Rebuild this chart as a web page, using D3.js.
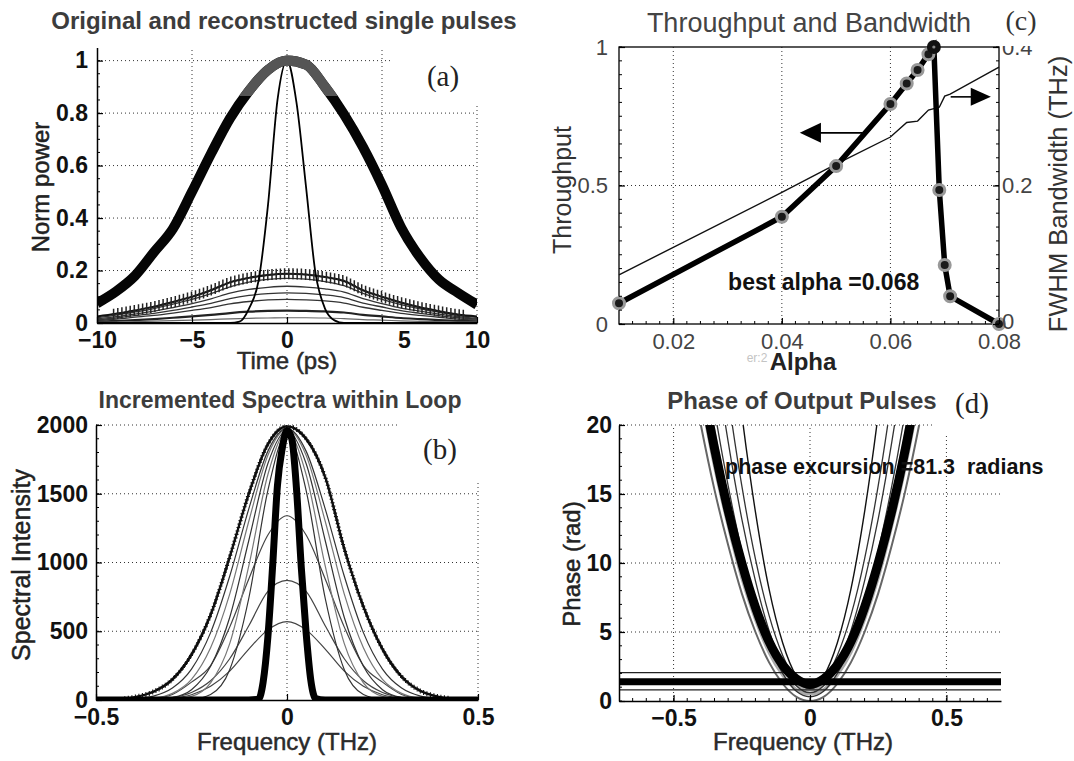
<!DOCTYPE html>
<html><head><meta charset="utf-8">
<script src="https://cdn.jsdelivr.net/npm/d3@7"></script>
<style>
body{margin:0;background:#fff}
svg{display:block}
</style>
</head><body>
<script>
// ================= DATA =================
// Panel (a) – Original and reconstructed single pulses
const timeGrid = [-10,-9,-8,-7,-6,-5,-4,-3,-2,-1,0,1,2,3,4,5,6,7,8,9,10];
const pulseOriginal = [0.075,0.12,0.18,0.27,0.36,0.5,0.645,0.78,0.885,0.965,1.0,0.985,0.9,0.795,0.67,0.525,0.365,0.25,0.165,0.115,0.07];
const pulseMarked   = [0.025,0.035,0.048,0.062,0.08,0.1,0.125,0.155,0.172,0.183,0.188,0.185,0.175,0.16,0.125,0.1,0.078,0.06,0.045,0.032,0.025];
const pulseRecon1 = [0.02,0.03,0.042,0.055,0.072,0.09,0.112,0.138,0.156,0.166,0.17,0.167,0.158,0.142,0.113,0.09,0.07,0.054,0.041,0.029,0.022];
const pulseRecon2 = [0.016,0.024,0.034,0.045,0.059,0.074,0.092,0.114,0.128,0.136,0.14,0.137,0.13,0.118,0.093,0.074,0.057,0.045,0.034,0.024,0.018];
const pulseRecon3 = [0.013,0.019,0.028,0.037,0.048,0.061,0.075,0.093,0.105,0.112,0.115,0.113,0.107,0.097,0.076,0.061,0.047,0.037,0.028,0.02,0.015];
const pulseRecon4 = [0.01,0.015,0.022,0.029,0.038,0.048,0.059,0.073,0.082,0.088,0.09,0.088,0.084,0.076,0.06,0.048,0.037,0.029,0.022,0.015,0.012];
const pulseRecon5 = [0.005,0.008,0.011,0.015,0.02,0.025,0.031,0.038,0.043,0.046,0.047,0.046,0.044,0.04,0.031,0.025,0.019,0.015,0.011,0.008,0.006];
const pulseRecon6 = [0.002,0.003,0.005,0.007,0.009,0.011,0.013,0.016,0.018,0.019,0.02,0.02,0.019,0.017,0.013,0.011,0.008,0.006,0.005,0.003,0.003];
const narrowTime  = [-10,-3,-2.5,-2,-1.5,-1,-0.5,0,0.5,1,1.5,2,2.5,3,10];
const pulseNarrow = [0,0,0.005,0.055,0.16,0.45,0.85,1.0,0.84,0.52,0.19,0.055,0.01,0,0];
const xTicksA = [-10,-5,0,5,10];
const xTickLabelsA = ["\u221210","\u22125","0","5","10"];
const yTicksA = [0,0.2,0.4,0.6,0.8,1];
const yTickLabelsA = ["0","0.2","0.4","0.6","0.8","1"];

// Panel (b) – Incremented spectra within loop
const freqGrid = [-0.5,-0.45,-0.4,-0.35,-0.3,-0.25,-0.2,-0.15,-0.1,-0.05,0,0.05,0.1,0.15,0.2,0.25,0.3,0.35,0.4,0.45,0.5];
const specEnvelope = [0,3,20,60,150,330,620,1040,1500,1860,1990,1900,1620,1100,680,370,170,65,22,5,0];
const specA = [0,0,0,0,0,5,40,220,740,1525,1940,1525,740,220,40,5,0,0,0,0,0];
const specB = [0,0,0,0,4,26,125,410,975,1640,1950,1640,975,410,125,26,4,0,0,0,0];
const specC = [0,0,0,3,18,75,245,600,1160,1720,1960,1720,1160,600,245,75,18,3,0,0,0];
const specD = [0,0,3,12,48,150,380,770,1300,1780,1970,1780,1300,770,380,150,48,12,3,0,0];
const specE = [0,2,8,28,87,225,490,900,1390,1810,1975,1810,1390,900,490,225,87,28,8,2,0];
const spec1340 = [0,0,2,10,40,130,250,530,880,1200,1340,1200,880,530,250,130,40,10,2,0,0];
const spec870  = [0,0,1,5,18,55,140,300,540,790,870,790,540,300,140,55,18,5,1,0,0];
const spec570  = [0,0,0,3,12,38,100,210,370,510,570,510,370,210,100,38,12,3,0,0,0];
const narrowFreq = [-0.5,-0.1,-0.075,-0.0625,-0.05,-0.0375,-0.025,-0.0125,0,0.0125,0.025,0.0375,0.05,0.0625,0.075,0.1,0.5];
const specNarrow = [0,0,5,130,460,980,1560,1830,1960,1900,1530,960,490,140,10,0,0];
const xTicksB = [-0.5,0,0.5];
const xTickLabelsB = ["\u22120.5","0","0.5"];
const yTicksB = [0,500,1000,1500,2000];
const yTickLabelsB = ["0","500","1000","1500","2000"];

// Panel (c) – Throughput and bandwidth
const alphaValues = [0.01,0.04,0.05,0.06,0.063,0.065,0.067,0.068,0.069,0.070,0.071,0.08];
const throughput  = [0.075,0.387,0.57,0.794,0.868,0.917,0.974,1.0,0.484,0.213,0.1,0.0];
const bandwidth   = [0.071,0.19,0.231,0.27,0.291,0.293,0.309,0.311,0.313,0.329,0.332,0.371];
const bestAlpha = 0.068;
const xTicksC = [0.02,0.04,0.06,0.08];
const xTickLabelsC = ["0.02","0.04","0.06","0.08"];
const yTicksC = [0,0.5,1];
const yTickLabelsC = ["0","0.5","1"];
const yTicksC2 = [0,0.2,0.4];
const yTickLabelsC2 = ["0","0.2","0.4"];

// Panel (d) – Phase of output pulses
const phaseFreq  = [-0.45,-0.4,-0.35,-0.3,-0.25,-0.2,-0.15,-0.1,-0.05,0,0.05,0.1,0.15,0.2,0.25,0.3,0.35,0.4,0.45];
const phaseThick = [29.6,23.6,18.3,13.8,10,6.8,4.3,2.6,1.6,1.2,1.6,2.6,4.3,6.8,10,13.8,18.3,23.6,29.6];
const phaseThin1 = [25.3,20,15.3,11.3,7.8,5,2.8,1.25,0.3,0,0.3,1.25,2.8,5,7.8,11.3,15.3,20,25.3];
const phaseThin2 = [34.7,27.5,21.1,15.6,10.9,7.1,4.1,2.0,0.7,0.3,0.7,2.0,4.1,7.1,10.9,15.6,21.1,27.5,34.7];
const phaseThin3 = [41.5,32.9,25.3,18.8,13.2,8.7,5.1,2.6,1.1,0.6,1.1,2.6,5.1,8.7,13.2,18.8,25.3,32.9,41.5];
const phaseThin4 = [48.5,38.5,29.7,22.1,15.6,10.3,6.2,3.3,1.5,0.9,1.5,3.3,6.2,10.3,15.6,22.1,29.7,38.5,48.5];
const phaseThin5 = [65,51.7,39.8,29.5,20.8,13.7,8.1,4.2,1.8,1.0,1.8,4.2,8.1,13.7,20.8,29.5,39.8,51.7,65];
const phaseHaze1 = [27.8,22.1,17.0,12.7,8.9,5.9,3.5,1.85,0.84,0.5,0.84,1.85,3.5,5.9,8.9,12.7,17.0,22.1,27.8];
const phaseHaze2 = [31.6,25.1,19.4,14.5,10.3,6.9,4.2,2.3,1.2,0.8,1.2,2.3,4.2,6.9,10.3,14.5,19.4,25.1,31.6];
const phaseFlatThick = 1.4;
const phaseFlatThin = [2.05, 0.8];
const xTicksD = [-0.5,0,0.5];
const xTickLabelsD = ["\u22120.5","0","0.5"];
const yTicksD = [0,5,10,15,20];
const yTickLabelsD = ["0","5","10","15","20"];

// ================= DRAWING =================
const FONT = '"Liberation Sans", Arial, Helvetica, sans-serif';
const SERIF = '"Liberation Serif", "Times New Roman", serif';
const TICK = 23;
const svg = d3.select("body").append("svg").attr("width",1074).attr("height",761)
  .style("font-family",FONT);
svg.append("rect").attr("width",1074).attr("height",761).attr("fill","#fff");

function lineD(xs, ys, sx, sy){
  return d3.line().x((d,i)=>sx(xs[i])).y(d=>sy(d)).curve(d3.curveMonotoneX)(ys);
}
function clip(id, sx, sy){
  const [x0,x1]=sx.range(), [y0,y1]=sy.range();
  svg.append("clipPath").attr("id",id).append("rect")
    .attr("x",Math.min(x0,x1)).attr("y",Math.min(y0,y1))
    .attr("width",Math.abs(x1-x0)).attr("height",Math.abs(y1-y0));
}
function grid(g, sx, sy, xv, yv){
  const [x0,x1]=sx.range(), [y0,y1]=sy.range();
  xv.forEach(v=>g.append("line").attr("x1",sx(v)).attr("x2",sx(v)).attr("y1",y0).attr("y2",y1)
    .attr("stroke","#333").attr("stroke-width",1).attr("stroke-dasharray","1,3"));
  yv.forEach(v=>g.append("line").attr("x1",x0).attr("x2",x1).attr("y1",sy(v)).attr("y2",sy(v))
    .attr("stroke","#333").attr("stroke-width",1).attr("stroke-dasharray","1,3"));
}
function styleAxis(a, size, weight, fill){
  a.select(".domain").attr("stroke","#000").attr("stroke-width",1.5);
  a.selectAll(".tick line").attr("stroke","#000").attr("stroke-width",1.2);
  a.selectAll("text").style("font-family",FONT).style("font-size",size+"px")
    .style("font-weight",weight).attr("fill",fill);
}
function minor(g, sx, sy, vals, orient, len){
  vals.forEach(v=>{
    if(orient==="left") g.append("line").attr("x1",sx.range()[0]).attr("x2",sx.range()[0]+len).attr("y1",sy(v)).attr("y2",sy(v));
    else if(orient==="right") g.append("line").attr("x1",sx.range()[1]).attr("x2",sx.range()[1]-len).attr("y1",sy(v)).attr("y2",sy(v));
    else g.append("line").attr("y1",sy.range()[0]).attr("y2",sy.range()[0]-len).attr("x1",sx(v)).attr("x2",sx(v));
  });
  g.attr("stroke","#000").attr("stroke-width",1);
}
function plusMarkers(g, pathSel, xMin, xMax, step, h, w, sw, col){
  const node = pathSel.node(), L = node.getTotalLength();
  let d = "";
  for(let s=0; s<=L; s+=step){
    const p = node.getPointAtLength(s);
    if(p.x<xMin || p.x>xMax) continue;
    d += `M${(p.x-w/2).toFixed(1)},${p.y.toFixed(1)}h${w}M${p.x.toFixed(1)},${(p.y-h/2).toFixed(1)}v${h}`;
  }
  g.append("path").attr("d",d).attr("stroke",col).attr("stroke-width",sw).attr("fill","none");
}
function text(x,y,str,opt){
  const t = svg.append("text").attr("x",x).attr("y",y).text(str)
    .attr("text-anchor",opt.anchor||"middle").attr("fill",opt.fill||"#111")
    .style("font-family",opt.family||FONT).style("font-size",(opt.size||20)+"px")
    .style("font-weight",opt.weight||"normal").style("white-space","pre");
  if(opt.stroke) t.attr("stroke",opt.fill||"#111").attr("stroke-width",opt.stroke);
  if(opt.rotate) t.attr("transform",`rotate(${opt.rotate},${x},${y})`);
  return t;
}

// ---------- Panel (a) ----------
{
  const sx = d3.scaleLinear().domain([-10,10]).range([97,477]);
  const sy = d3.scaleLinear().domain([0,1.05]).range([323,47.5]);
  clip("clipA", sx, sy);
  const g = svg.append("g");
  grid(g, sx, sy, [-5,0,5,10], [0.2,0.4,0.6,0.8,1]);
  g.append("rect").attr("x",393).attr("y",40).attr("width",95).attr("height",63).attr("fill","#fff");
  const c = g.append("g").attr("clip-path","url(#clipA)");
  [pulseRecon1,pulseRecon2,pulseRecon3,pulseRecon4].forEach(a=>
    c.append("path").attr("d",lineD(timeGrid,a,sx,sy)).attr("fill","none").attr("stroke","#333").attr("stroke-width",1.3));
  c.append("path").attr("d",lineD(timeGrid,pulseRecon5,sx,sy)).attr("fill","none").attr("stroke","#222").attr("stroke-width",2.2);
  c.append("path").attr("d",lineD(timeGrid,pulseRecon6,sx,sy)).attr("fill","none").attr("stroke","#666").attr("stroke-width",1.2);
  const pm = c.append("path").attr("d",lineD(timeGrid,pulseMarked,sx,sy)).attr("fill","none").attr("stroke","#111").attr("stroke-width",2);
  plusMarkers(c, pm, sx(-9.2), sx(9.4), 4.2, 11, 3, 1.5, "#222");
  c.append("path").attr("d",lineD(narrowTime,pulseNarrow,sx,sy)).attr("fill","none").attr("stroke","#000").attr("stroke-width",1.8);
  const dThick = lineD(timeGrid,pulseOriginal,sx,sy);
  c.append("path").attr("d",dThick).attr("fill","none").attr("stroke","#050505").attr("stroke-width",10);
  svg.append("clipPath").attr("id","clipATop").append("rect").attr("x",97).attr("y",40).attr("width",380).attr("height",sy(0.865)-40);
  g.append("path").attr("d",dThick).attr("fill","none").attr("stroke","#555").attr("stroke-width",10).attr("clip-path","url(#clipATop)");

  const ax = g.append("g").attr("transform",`translate(0,${sy(0)})`)
    .call(d3.axisBottom(sx).tickValues(xTicksA).tickFormat((d,i)=>xTickLabelsA[i]).tickSizeInner(-6).tickSizeOuter(0).tickPadding(9));
  styleAxis(ax,TICK,"bold","#111");
  ax.selectAll(".tick text").filter(d=>d===5).attr("dx",22);
  const ay = g.append("g").attr("transform",`translate(${sx(-10)},0)`)
    .call(d3.axisLeft(sy).tickValues(yTicksA).tickFormat((d,i)=>yTickLabelsA[i]).tickSizeInner(-6).tickSizeOuter(0).tickPadding(9));
  styleAxis(ay,TICK,"bold","#111");
  minor(g.append("g"), sx, sy, d3.range(0,1.05,0.05), "left", 3);

  text(284,29,"Original and reconstructed single pulses",{size:24,weight:"bold",fill:"#3c3c3c"});
  text(287,369,"Time (ps)",{size:24,fill:"#2a2a2a",stroke:0.5});
  text(49,187,"Norm power",{size:24,fill:"#222",stroke:0.5,rotate:-90});
  text(443,86,"(a)",{size:29,family:SERIF,fill:"#222"});
}

// ---------- Panel (b) ----------
{
  const sx = d3.scaleLinear().domain([-0.5,0.5]).range([96,478]);
  const sy = d3.scaleLinear().domain([0,2000]).range([700,425]);
  clip("clipB", sx, sy);
  const g = svg.append("g");
  grid(g, sx, sy, [0,0.5], [500,1000,1500,2000]);
  g.append("rect").attr("x",400).attr("y",414).attr("width",90).attr("height",68).attr("fill","#fff");
  const c = g.append("g").attr("clip-path","url(#clipB)");
  [spec570,spec870,spec1340].forEach(a=>
    c.append("path").attr("d",lineD(freqGrid,a,sx,sy)).attr("fill","none").attr("stroke","#444").attr("stroke-width",1.2));
  [specA,specB,specC,specD,specE].forEach((a,i)=>
    c.append("path").attr("d",lineD(freqGrid,a,sx,sy)).attr("fill","none").attr("stroke",i%2?"#777":"#333").attr("stroke-width",1.2));
  const env = c.append("path").attr("d",lineD(freqGrid,specEnvelope,sx,sy)).attr("fill","none").attr("stroke","#000").attr("stroke-width",2.2);
  plusMarkers(c, env, sx(-0.43), sx(0.43), 3.6, 5, 4, 1.1, "#111");
  c.append("path").attr("d",lineD(narrowFreq,specNarrow,sx,sy)).attr("fill","none").attr("stroke","#000").attr("stroke-width",7);

  const ax = g.append("g").attr("transform",`translate(0,${sy(0)})`)
    .call(d3.axisBottom(sx).tickValues(xTicksB).tickFormat((d,i)=>xTickLabelsB[i]).tickSizeInner(-6).tickSizeOuter(0).tickPadding(9));
  styleAxis(ax,TICK,"bold","#111");
  const ay = g.append("g").attr("transform",`translate(${sx(-0.5)},0)`)
    .call(d3.axisLeft(sy).tickValues(yTicksB).tickFormat((d,i)=>yTickLabelsB[i]).tickSizeInner(-6).tickSizeOuter(0).tickPadding(8));
  styleAxis(ay,TICK,"bold","#111");
  minor(g.append("g"), sx, sy, d3.range(0,2001,100), "left", 3);

  text(280,408,"Incremented Spectra within Loop",{size:23,weight:"bold",fill:"#3c3c3c"});
  text(287,750,"Frequency (THz)",{size:24,fill:"#2a2a2a",stroke:0.5});
  text(30,565,"Spectral Intensity",{size:25,fill:"#222",stroke:0.5,rotate:-90});
  text(440,459,"(b)",{size:29,family:SERIF,fill:"#222"});
}

// ---------- Panel (c) ----------
{
  const sx = d3.scaleLinear().domain([0.01,0.08]).range([619,999]);
  const sy = d3.scaleLinear().domain([0,1]).range([324,47]);
  const sy2 = d3.scaleLinear().domain([0,0.4]).range([324,47]);
  const g = svg.append("g");
  grid(g, sx, sy, [0.02,0.04,0.06], [0.5]);
  g.append("rect").attr("x",619).attr("y",47).attr("width",380).attr("height",277).attr("fill","none").attr("stroke","#000").attr("stroke-width",1.3);

  g.append("path").attr("d",d3.line().x((d,i)=>sx(alphaValues[i])).y(d=>sy2(d))(bandwidth))
    .attr("fill","none").attr("stroke","#111").attr("stroke-width",1.4);
  g.append("path").attr("d",d3.line().x((d,i)=>sx(alphaValues[i])).y(d=>sy(d))(throughput))
    .attr("fill","none").attr("stroke","#000").attr("stroke-width",5.5);
  alphaValues.forEach((a,i)=>{
    if(a===bestAlpha) return;
    g.append("circle").attr("cx",sx(a)).attr("cy",sy(throughput[i])).attr("r",5.5)
      .attr("fill","#1a1a1a").attr("stroke","#999").attr("stroke-width",3);
  });
  const bi = alphaValues.indexOf(bestAlpha);
  g.append("circle").attr("cx",sx(bestAlpha)).attr("cy",sy(throughput[bi])).attr("r",7).attr("fill","#111");
  g.append("circle").attr("cx",sx(bestAlpha)).attr("cy",sy(throughput[bi])).attr("r",1.6).attr("fill","#888");

  // arrows (annotation positions in data units)
  const ly = sy(0.69);
  g.append("line").attr("x1",sx(0.0549)).attr("x2",sx(0.0465)).attr("y1",ly).attr("y2",ly).attr("stroke","#000").attr("stroke-width",1.6);
  g.append("path").attr("d",`M${sx(0.0433)},${ly}L${sx(0.0472)},${ly-10}L${sx(0.0472)},${ly+10}Z`).attr("fill","#000");
  const ry = sy(0.82);
  g.append("line").attr("x1",sx(0.0711)).attr("x2",sx(0.0755)).attr("y1",ry).attr("y2",ry).attr("stroke","#000").attr("stroke-width",1.6);
  g.append("path").attr("d",`M${sx(0.0785)},${ry}L${sx(0.0748)},${ry-9}L${sx(0.0748)},${ry+9}Z`).attr("fill","#000");

  const ax = g.append("g").attr("transform",`translate(0,${sy(0)})`)
    .call(d3.axisBottom(sx).tickValues(xTicksC).tickFormat((d,i)=>xTickLabelsC[i]).tickSizeInner(-6).tickSizeOuter(0).tickPadding(9));
  styleAxis(ax,22,"normal","#444");
  ax.select(".domain").remove();
  const ay = g.append("g").attr("transform",`translate(${sx(0.01)},0)`)
    .call(d3.axisLeft(sy).tickValues(yTicksC).tickFormat((d,i)=>yTickLabelsC[i]).tickSizeInner(-6).tickSizeOuter(0).tickPadding(11));
  styleAxis(ay,22,"normal","#444");
  ay.select(".domain").remove();
  const ay2 = g.append("g").attr("transform",`translate(${sx(0.08)},0)`)
    .call(d3.axisRight(sy2).tickValues(yTicksC2).tickFormat((d,i)=>yTickLabelsC2[i]).tickSizeInner(-6).tickSizeOuter(0).tickPadding(3));
  styleAxis(ay2,22,"normal","#444");
  ay2.select(".domain").remove();
  ay2.selectAll(".tick text").filter(d=>d===0).attr("dy","0.2em");
  minor(g.append("g"), sx, sy2, d3.range(0,0.401,0.02), "right", 3);
  minor(g.append("g"), sx, sy, d3.range(0,1.001,0.05), "left", 3);
  minor(g.append("g"), sx, sy, d3.range(0.0125,0.08,0.0025), "bottom", 3);
  // top of the "0.4" label is cut off in the source
  svg.append("rect").attr("x",1001).attr("y",0).attr("width",40).attr("height",46).attr("fill","#fff");

  text(809,32,"Throughput and Bandwidth",{size:27,fill:"#444"});
  text(1021,30,"(c)",{size:28,family:SERIF,fill:"#333"});
  text(803,370,"Alpha",{size:24,weight:"bold",fill:"#222"});
  text(757,362,"er:2",{size:12,fill:"#c4c4c4"});
  text(571,190,"Throughput",{size:25,fill:"#333",rotate:-90});
  text(1067,194,"FWHM Bandwidth (THz)",{size:25.5,fill:"#333",rotate:-90});
  text(sx(0.0301),sy(0.123),"best alpha =0.068",{size:23,weight:"bold",anchor:"start",fill:"#111"});
}

// ---------- Panel (d) ----------
{
  const sx = d3.scaleLinear().domain([-0.7,0.7]).range([619,1001]);
  const sy = d3.scaleLinear().domain([0,20]).range([701,425]);
  clip("clipD", sx, sy);
  const g = svg.append("g");
  grid(g, sx, sy, [-0.5,0,0.5], [5,10,15,20]);
  g.append("rect").attr("x",935).attr("y",416).attr("width",75).attr("height",18).attr("fill","#fff");
  const c = g.append("g").attr("clip-path","url(#clipD)");
  [phaseHaze1,phaseHaze2].forEach(a=>
    c.append("path").attr("d",lineD(phaseFreq,a,sx,sy)).attr("fill","none").attr("stroke","#aaa").attr("stroke-width",3));
  c.append("path").attr("d",lineD(phaseFreq,phaseThin1,sx,sy)).attr("fill","none").attr("stroke","#666").attr("stroke-width",2);
  [phaseThin2,phaseThin3,phaseThin4].forEach(a=>
    c.append("path").attr("d",lineD(phaseFreq,a,sx,sy)).attr("fill","none").attr("stroke","#333").attr("stroke-width",1.3));
  c.append("path").attr("d",lineD(phaseFreq,phaseThin5,sx,sy)).attr("fill","none").attr("stroke","#111").attr("stroke-width",1.4);
  phaseFlatThin.forEach(v=>c.append("line").attr("x1",sx(-0.7)).attr("x2",sx(0.7)).attr("y1",sy(v)).attr("y2",sy(v)).attr("stroke","#222").attr("stroke-width",1.2));
  c.append("path").attr("d",lineD(phaseFreq,phaseThick,sx,sy)).attr("fill","none").attr("stroke","#000").attr("stroke-width",9);
  c.append("line").attr("x1",sx(-0.7)).attr("x2",sx(0.7)).attr("y1",sy(phaseFlatThick)).attr("y2",sy(phaseFlatThick)).attr("stroke","#000").attr("stroke-width",7);

  const ax = g.append("g").attr("transform",`translate(0,${sy(0)})`)
    .call(d3.axisBottom(sx).tickValues(xTicksD).tickFormat((d,i)=>xTickLabelsD[i]).tickSizeInner(-6).tickSizeOuter(0).tickPadding(9));
  styleAxis(ax,TICK,"bold","#111");
  const ay = g.append("g").attr("transform",`translate(${sx(-0.7)},0)`)
    .call(d3.axisLeft(sy).tickValues(yTicksD).tickFormat((d,i)=>yTickLabelsD[i]).tickSizeInner(-6).tickSizeOuter(0).tickPadding(7));
  styleAxis(ay,TICK,"bold","#111");
  minor(g.append("g"), sx, sy, d3.range(0,20.01,1), "left", 3);
  minor(g.append("g"), sx, sy, d3.range(-0.65,0.7,0.05), "bottom", 3);

  text(802,409,"Phase of Output Pulses",{size:24,weight:"bold",fill:"#3c3c3c"});
  text(972,413,"(d)",{size:29,family:SERIF,fill:"#222"});
  text(803,750,"Frequency (THz)",{size:24,fill:"#2a2a2a",stroke:0.5});
  text(580,564,"Phase (rad)",{size:24,fill:"#222",stroke:0.5,rotate:-90});
  text(725,474,"phase excursion =81.3  radians",{size:21.5,weight:"bold",anchor:"start",fill:"#111"});
}
</script>
</body></html>
